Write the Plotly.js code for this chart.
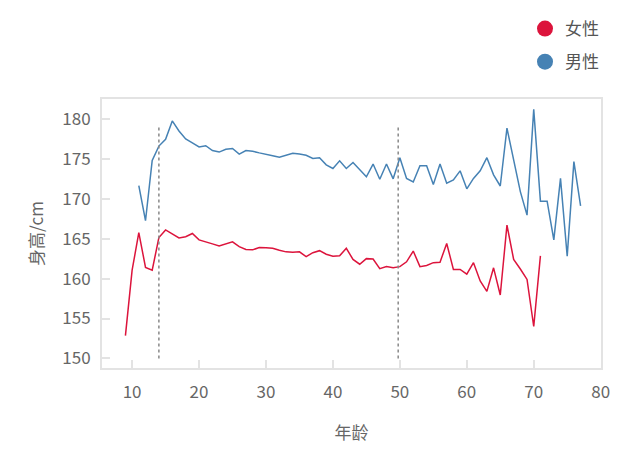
<!DOCTYPE html>
<html>
<head>
<meta charset="utf-8">
<script src="https://cdn.plot.ly/plotly-3.0.1.min.js"></script>
<style>html,body{margin:0;padding:0;background:#fff;}#chart{width:644px;height:460px;}</style>
</head>
<body>
<div id="chart"></div>
<script>
const femaleAges = [9,10,11,12,13,14,15,16,17,18,19,20,21,22,23,24,25,26,27,28,29,30,31,32,33,34,35,36,37,38,39,40,41,42,43,44,45,46,47,48,49,50,51,52,53,54,55,56,57,58,59,60,61,62,63,64,65,66,67,68,69,70,71];
const femaleHeight = [152.85,161.05,165.75,161.4,161.05,165.15,166.1,165.55,165.1,165.25,165.65,164.85,164.55,164.35,164.1,164.4,164.6,164.0,163.65,163.6,163.9,163.85,163.8,163.55,163.35,163.3,163.35,162.75,163.25,163.5,163.05,162.8,162.85,163.8,162.4,161.8,162.5,162.45,161.25,161.5,161.35,161.5,162.1,163.45,161.5,161.65,162.0,162.05,164.4,161.15,161.15,160.55,162.0,159.7,158.4,161.35,157.95,166.7,162.4,161.2,159.9,154.0,162.85];
const maleAges = [11,12,13,14,15,16,17,18,19,20,21,22,23,24,25,26,27,28,29,30,31,32,33,34,35,36,37,38,39,40,41,42,43,44,45,46,47,48,49,50,51,52,53,54,55,56,57,58,59,60,61,62,63,64,65,66,67,68,69,70,71,72,73,74,75,76,77];
const maleHeight = [171.65,167.25,174.8,176.6,177.45,179.75,178.5,177.5,177.0,176.5,176.65,176.05,175.85,176.2,176.3,175.6,176.05,175.95,175.75,175.6,175.4,175.2,175.5,175.7,175.6,175.45,175.05,175.15,174.25,173.8,174.75,173.8,174.55,173.7,172.75,174.35,172.45,174.35,172.5,175.15,172.55,172.1,174.15,174.15,171.8,174.35,171.95,172.35,173.5,171.25,172.55,173.5,175.15,173.0,171.6,178.85,174.75,170.9,167.95,181.2,169.7,169.7,164.85,172.55,162.8,174.65,169.1];
const refAges = [14, 49.75];
const refSpan = [150, 179.25];
const seriesNames = ['女性', '男性'];
const seriesColors = ['#dc143c', '#4682b4'];
const xTicks = [10,20,30,40,50,60,70,80];
const yTicks = [150,155,160,165,170,175,180];

const FONT = '"Noto Sans CJK SC", "Noto Sans", sans-serif';
const traces = [
  {x: femaleAges, y: femaleHeight, mode: 'lines', line: {color: seriesColors[0], width: 1.5}, showlegend: false, hoverinfo: 'x+y'},
  {x: maleAges, y: maleHeight, mode: 'lines', line: {color: seriesColors[1], width: 1.5}, showlegend: false, hoverinfo: 'x+y'},
  {x: [null], y: [null], mode: 'markers', name: seriesNames[0], legendgroup: 'f', marker: {color: seriesColors[0], size: 16, symbol: 'circle'}, showlegend: true},
  {x: [null], y: [null], mode: 'markers', name: seriesNames[1], legendgroup: 'm', marker: {color: seriesColors[1], size: 16, symbol: 'circle'}, showlegend: true}
];
const shapes = refAges.map(a => ({type: 'line', xref: 'x', yref: 'y', x0: a, x1: a, y0: refSpan[0], y1: refSpan[1], line: {color: '#888', width: 1.5, dash: 'dot'}}));
const axisCommon = {
  showgrid: false, zeroline: false, showline: true, mirror: true, linecolor: '#e3e3e3', linewidth: 2,
  ticks: 'inside', ticklen: 8, tickwidth: 2, tickcolor: '#e3e3e3',
  tickfont: {family: FONT, size: 17, color: '#666'}
};
const layout = {
  width: 644, height: 460,
  margin: {l: 102, r: 43, t: 99, b: 92, autoexpand: false},
  paper_bgcolor: '#fff', plot_bgcolor: '#fff',
  font: {family: FONT, color: '#666'},
  xaxis: Object.assign({}, axisCommon, {range: [5.5, 80.05], tickvals: xTicks, ticklabelstandoff: 8,
    title: {text: '年龄', font: {family: FONT, size: 17, color: '#666'}, standoff: 25}}),
  yaxis: Object.assign({}, axisCommon, {range: [148.8, 182.5], tickvals: yTicks, ticklabelstandoff: 6,
    title: {text: '身高/cm', font: {family: FONT, size: 17, color: '#666'}, standoff: 14}}),
  showlegend: true,
  legend: {x: 525/644, xanchor: 'left', y: 1 - 11/460, yanchor: 'top', yref: 'container', xref: 'container',
    font: {family: FONT, size: 17, color: '#555'}, traceorder: 'grouped', tracegroupgap: 8, bgcolor: 'rgba(0,0,0,0)'},
  shapes: shapes
};
Plotly.newPlot('chart', traces, layout, {displayModeBar: false, staticPlot: true});
</script>
</body>
</html>
